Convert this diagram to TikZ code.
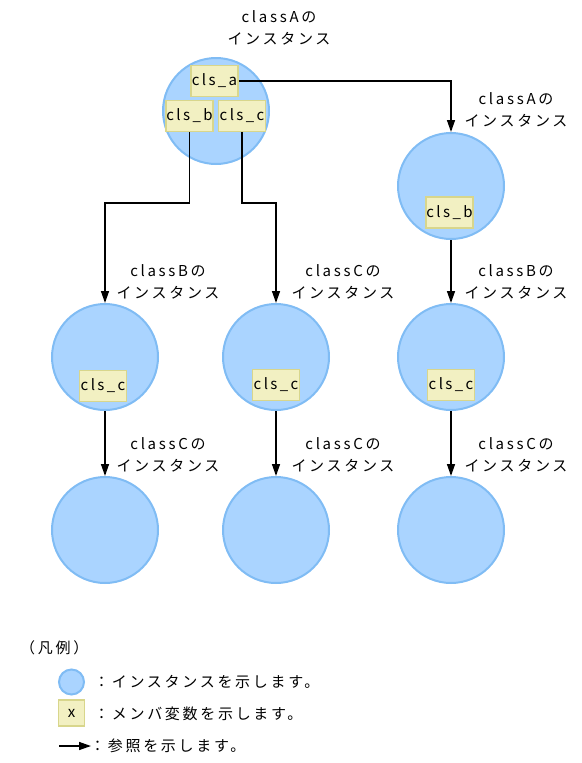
\documentclass[tikz,border=0pt]{standalone}
\usepackage{fontspec}
\usetikzlibrary{arrows.meta}
\setmainfont{Noto Sans CJK JP}
\newfontfamily\jp[LetterSpace=18]{Noto Sans CJK JP}
\newfontfamily\jpm[LetterSpace=16]{Noto Sans CJK JP}
\definecolor{instfill}{HTML}{AAD4FF}
\definecolor{instdraw}{HTML}{80BCF4}
\definecolor{memfill}{HTML}{F2F0C2}
\definecolor{memdraw}{HTML}{D8D68C}
\tikzset{
  inst/.style={circle,fill=instfill,draw=instdraw,line width=2pt,minimum size=106pt,inner sep=0pt},
  smallinst/.style={circle,fill=instfill,draw=instdraw,line width=2pt,minimum size=25pt,inner sep=0pt},
  mem/.style={rectangle,fill=memfill,draw=memdraw,line width=1.2pt,minimum width=47pt,minimum height=31pt,inner sep=0pt,font=\jpm\fontsize{15}{17}\selectfont},
  lbl/.style={align=center,font=\jp\fontsize{15}{22}\selectfont,inner sep=0pt},
  txt/.style={anchor=west,font=\jp\fontsize{15}{18}\selectfont,inner sep=0pt},
  ref/.style={line width=1.4pt,-{Triangle[length=12pt,width=8pt]}}
}
\begin{document}
\begin{tikzpicture}[x=1pt,y=-1pt]
\useasboundingbox (0,0) rectangle (581,763);
% instances
\node[inst] (A) at (216,111) {};
\node[inst] (A2) at (451,186) {};
\node[inst] (B1) at (105,357) {};
\node[inst] (C1) at (276,357) {};
\node[inst] (B2) at (451,357) {};
\node[inst] (D1) at (105,530) {};
\node[inst] (D2) at (276,530) {};
\node[inst] (D3) at (451,530) {};
% members
\node[mem] (ma) at (214.5,81) {cls\_a};
\node[mem] (mb) at (189.5,116) {cls\_b};
\node[mem] (mc) at (242,116) {cls\_c};
\node[mem] (m2b) at (449.5,212.5) {cls\_b};
\node[mem] (m1c) at (103,386) {cls\_c};
\node[mem] (m3c) at (276,385) {cls\_c};
\node[mem] (m4c) at (451,385) {cls\_c};
% labels
\node[lbl] (lA) at (279,28) {classAの\\インスタンス};
\node[lbl] (lA2) at (516,110) {classAの\\インスタンス};
\node[lbl] (lB1) at (168,282) {classBの\\インスタンス};
\node[lbl] (lC1) at (343,282) {classCの\\インスタンス};
\node[lbl] (lB2) at (516,282) {classBの\\インスタンス};
\node[lbl] (lD1) at (168,455) {classCの\\インスタンス};
\node[lbl] (lD2) at (343,455) {classCの\\インスタンス};
\node[lbl] (lD3) at (516,455) {classCの\\インスタンス};
% references
\draw[ref] (ma.east) -| (A2.north);
\draw[ref] (mb.south) |- (105,203) -- (B1.north);
\draw[ref] (mc.south) |- (276,203) -- (C1.north);
\draw[ref] (A2.south) -- (B2.north);
\draw[ref] (B1.south) -- (D1.north);
\draw[ref] (C1.south) -- (D2.north);
\draw[ref] (B2.south) -- (D3.north);
% legend
\node[txt] (leg) at (20,648) {（凡例）};
\node[smallinst] (lc) at (71.5,682) {};
\node[mem,minimum width=26pt,minimum height=26pt] (lm) at (71.5,713) {x};
\coordinate (la1) at (59,746);
\coordinate (la2) at (91,746);
\draw[ref] (la1) -- (la2);
\node[txt] (t1) at (94,682) {：インスタンスを示します。};
\node[txt] (t2) at (94,714) {：メンバ変数を示します。};
\node[txt] (t3) at (90,746) {：参照を示します。};
\end{tikzpicture}
\end{document}
